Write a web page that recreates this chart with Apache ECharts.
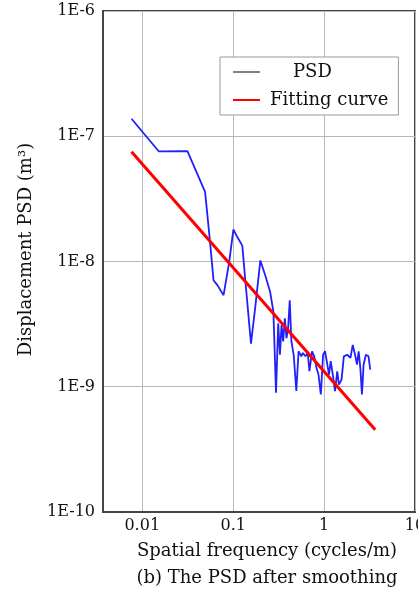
<!DOCTYPE html>
<html>
<head>
<meta charset="utf-8">
<script src="https://cdn.jsdelivr.net/npm/echarts@6/dist/echarts.min.js"></script>
<style>
html,body{margin:0;padding:0;background:#fff;}
#chart{width:418px;height:591px;}
</style>
</head>
<body>
<div id="chart"></div>
<script>
// Spatial frequency (cycles/m) of the smoothed PSD
var psdFreq = [0.00762, 0.01524, 0.0314, 0.0491, 0.0557, 0.0608, 0.0673, 0.0784, 0.0904, 0.1005,
  0.1115, 0.126, 0.137, 0.157, 0.176, 0.199, 0.2255, 0.255, 0.277, 0.296,
  0.313, 0.327, 0.3405, 0.355, 0.370, 0.386, 0.402, 0.419, 0.437, 0.463,
  0.495, 0.524, 0.561, 0.584, 0.624, 0.661, 0.690, 0.737, 0.780, 0.826,
  0.868, 0.921, 0.975, 1.025, 1.086, 1.133, 1.183, 1.253, 1.318, 1.395,
  1.455, 1.557, 1.649, 1.792, 1.950, 2.066, 2.21, 2.30, 2.40, 2.505,
  2.61, 2.72, 2.88, 3.08, 3.22];
// Displacement PSD (m^3)
var psdValue = [1.38e-7, 7.56e-8, 7.6e-8, 3.6e-8, 1.43e-8, 7.08e-9, 6.45e-9, 5.38e-9, 9.9e-9, 1.80e-8,
  1.56e-8, 1.34e-8, 6.66e-9, 2.21e-9, 4.49e-9, 1.02e-8, 7.74e-9, 5.73e-9, 3.97e-9, 8.95e-10,
  3.21e-9, 1.80e-9, 3.11e-9, 2.30e-9, 3.52e-9, 2.44e-9, 2.93e-9, 4.91e-9, 2.30e-9, 1.80e-9,
  9.24e-10, 1.92e-9, 1.75e-9, 1.86e-9, 1.75e-9, 1.86e-9, 1.33e-9, 1.92e-9, 1.75e-9, 1.41e-9,
  1.25e-9, 8.69e-10, 1.80e-9, 1.92e-9, 1.50e-9, 1.25e-9, 1.60e-9, 1.22e-9, 9.24e-10, 1.33e-9,
  1.04e-9, 1.14e-9, 1.75e-9, 1.80e-9, 1.70e-9, 2.16e-9, 1.75e-9, 1.50e-9, 1.92e-9, 1.41e-9,
  8.69e-10, 1.50e-9, 1.80e-9, 1.75e-9, 1.37e-9];
// Fitting curve (power law, straight in log-log)
var fitFreq = [0.00762, 3.65];
var fitValue = [7.52e-8, 4.54e-10];
// Axis decades
var xTickValues = [0.01, 0.1, 1, 10];
var yTickValues = [1e-10, 1e-9, 1e-8, 1e-7, 1e-6];

var seriesNames = ['PSD', 'Fitting curve'];
var xName = 'Spatial frequency (cycles/m)';
var yName = 'Displacement PSD (m\u00B3)';
var caption = '(b) The PSD after smoothing';

function zip(a, b) { return a.map(function (v, i) { return [v, b[i]]; }); }
function isDecade(v, list) {
  for (var i = 0; i < list.length; i++) { if (Math.abs(Math.log10(v) - Math.log10(list[i])) < 1e-6) return true; }
  return false;
}
var FONT = 'DejaVu Serif';
var chart = echarts.init(document.getElementById('chart'), null, {renderer: 'canvas'});
chart.setOption({
  backgroundColor: '#fff',
  animation: false,
  grid: {left: 103, right: 3, top: 11, bottom: 79, containLabel: false, outerBoundsMode: 'none',
    show: true, borderColor: '#444', borderWidth: 2, backgroundColor: 'transparent'},
  legend: {
    left: 220, top: 57, orient: 'vertical',
    backgroundColor: '#fff', borderColor: '#999', borderWidth: 1,
    padding: [4, 10, 4, 13], itemGap: 6, itemWidth: 27, itemHeight: 2, icon: 'rect',
    textStyle: {fontFamily: FONT, fontSize: 18, color: '#111', lineHeight: 22,
      rich: {p: {fontFamily: FONT, fontSize: 18, color: '#111', padding: [0, 0, 0, 28]},
             q: {fontFamily: FONT, fontSize: 18, color: '#111', padding: [0, 0, 0, 5]}}},
    formatter: function (name) { return name === 'PSD' ? '{p|' + name + '}' : '{q|' + name + '}'; },
    data: [
      {name: seriesNames[0], itemStyle: {color: '#808080'}},
      {name: seriesNames[1], itemStyle: {color: '#ff0000'}}
    ]
  },
  xAxis: {
    type: 'log', logBase: 10, min: 0.0037, max: 10,
    name: xName, nameLocation: 'middle', nameGap: 30,
    nameTextStyle: {fontFamily: FONT, fontSize: 18, color: '#111', padding: [0, 0, 0, 16]},
    axisLine: {show: true, lineStyle: {color: '#444', width: 2}},
    axisTick: {show: false},
    axisLabel: {fontFamily: FONT, fontSize: 16, color: '#111', margin: 6,
      formatter: function (v) {
        if (!isDecade(v, xTickValues)) return '';
        var p = Math.round(Math.log10(v));
        return p < 0 ? Math.pow(10, p).toFixed(-p) : String(Math.pow(10, p));
      }},
    splitLine: {show: true, lineStyle: {color: '#b8b8b8', width: 1}}
  },
  yAxis: {
    type: 'log', logBase: 10, min: 1e-10, max: 1e-6,
    name: yName, nameLocation: 'middle', nameGap: 68,
    nameTextStyle: {fontFamily: FONT, fontSize: 18, color: '#111', padding: [0, 0, 0, 24]},
    axisLine: {show: true, lineStyle: {color: '#444', width: 2}},
    axisTick: {show: false},
    axisLabel: {fontFamily: FONT, fontSize: 16, color: '#111', margin: 8,
      formatter: function (v) {
        if (!isDecade(v, yTickValues)) return '';
        return '1E' + Math.round(Math.log10(v));
      }},
    splitLine: {show: true, lineStyle: {color: '#b8b8b8', width: 1}}
  },
  graphic: [{
    type: 'text', x: 267, y: 578,
    style: {text: caption, fontFamily: FONT, fontSize: 18, fill: '#111', align: 'center', verticalAlign: 'middle'}
  }],
  series: [
    {name: seriesNames[0], type: 'line', symbol: 'none', data: zip(psdFreq, psdValue),
     lineStyle: {color: '#2020ff', width: 1.8}, itemStyle: {color: '#2020ff'}, z: 3},
    {name: seriesNames[1], type: 'line', symbol: 'none', data: zip(fitFreq, fitValue),
     lineStyle: {color: '#ff0000', width: 3}, itemStyle: {color: '#ff0000'}, z: 4}
  ]
});
</script>
</body>
</html>
